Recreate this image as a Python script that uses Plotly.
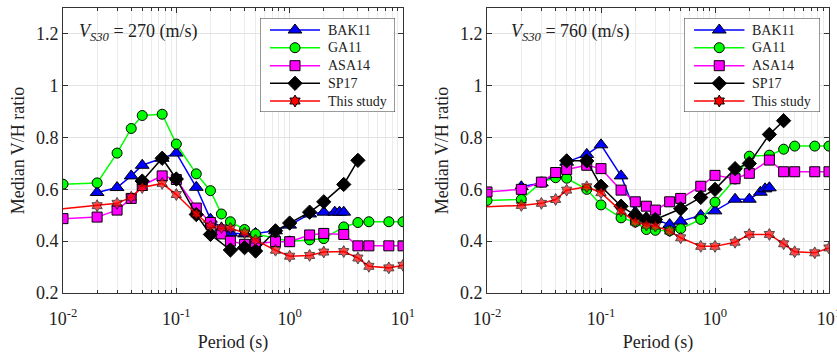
import plotly.graph_objects as go

# ---------------- data ----------------
T_std = [0.01, 0.02, 0.03, 0.04, 0.05, 0.075, 0.1, 0.15, 0.2, 0.25, 0.3, 0.4,
         0.5, 0.75, 1, 1.5, 2, 3, 4, 5, 7.5, 10]
T_bak = [0.02, 0.03, 0.04, 0.05, 0.075, 0.1, 0.15, 0.2, 0.25, 0.3, 0.4, 0.5,
         0.75, 1, 1.5, 2, 2.5, 2.75, 3]
T_sp_270 = [0.05, 0.075, 0.1, 0.15, 0.2, 0.3, 0.4, 0.5, 0.75, 1, 1.5, 2, 3, 4]
T_sp_760 = [0.05, 0.075, 0.1, 0.15, 0.2, 0.25, 0.3, 0.5, 0.75, 1, 1.5, 2, 3, 4]

# Vs30 = 270 m/s
bak11_270 = [0.588, 0.607, 0.652, 0.693, 0.72, 0.74, 0.608, 0.485, 0.45, 0.432, 0.428,
             0.43, 0.44, 0.462, 0.505, 0.512, 0.512, 0.512, 0.512]
ga11_270 = [0.62, 0.625, 0.74, 0.835, 0.885, 0.89, 0.775, 0.66, 0.595, 0.505, 0.475,
            0.445, 0.428, 0.41, 0.40, 0.405, 0.41, 0.455, 0.472, 0.475, 0.475, 0.475]
asa14_270 = [0.487, 0.493, 0.52, 0.565, 0.615, 0.652, 0.638, 0.528, 0.472, 0.428, 0.40,
             0.388, 0.39, 0.398, 0.398, 0.424, 0.43, 0.426, 0.382, 0.382, 0.382, 0.382]
sp17_270 = [0.632, 0.72, 0.64, 0.503, 0.426, 0.366, 0.375, 0.362, 0.44, 0.47, 0.512,
            0.552, 0.619, 0.712]
study_270 = [0.525, 0.537, 0.546, 0.57, 0.607, 0.623, 0.58, 0.505, 0.458, 0.452, 0.45,
             0.432, 0.404, 0.365, 0.342, 0.345, 0.358, 0.36, 0.335, 0.303, 0.297, 0.307]

# Vs30 = 760 m/s
bak11_760 = [0.61, 0.625, 0.655, 0.705, 0.735, 0.772, 0.652, 0.512, 0.49, 0.484, 0.464,
             0.477, 0.5, 0.517, 0.562, 0.562, 0.589, 0.602, 0.606]
ga11_760 = [0.557, 0.561, 0.628, 0.645, 0.643, 0.60, 0.54, 0.49, 0.474, 0.445, 0.442,
            0.44, 0.448, 0.484, 0.551, 0.64, 0.728, 0.732, 0.755, 0.767, 0.767, 0.767]
asa14_760 = [0.59, 0.60, 0.628, 0.665, 0.677, 0.693, 0.68, 0.597, 0.552, 0.535, 0.52,
             0.552, 0.565, 0.612, 0.654, 0.641, 0.662, 0.713, 0.668, 0.668, 0.668, 0.668]
sp17_760 = [0.71, 0.71, 0.612, 0.535, 0.50, 0.485, 0.484, 0.525, 0.569, 0.60, 0.68,
            0.70, 0.812, 0.865]
study_760 = [0.533, 0.538, 0.546, 0.561, 0.597, 0.61, 0.587, 0.516, 0.474, 0.462, 0.458,
             0.439, 0.413, 0.38, 0.38, 0.396, 0.426, 0.426, 0.39, 0.359, 0.355, 0.374]

series_names = ["BAK11", "GA11", "ASA14", "SP17", "This study"]
x_tickvals = [0.01, 0.1, 1, 10]
x_ticktext = ["10<sup>-2</sup>", "10<sup>-1</sup>", "10<sup>0</sup>", "10<sup>1</sup>"]
y_tickvals = [0.2, 0.4, 0.6, 0.8, 1.0, 1.2]
y_ticktext = ["0.2", "0.4", "0.6", "0.8", "1", "1.2"]
vs30_labels = ["270", "760"]

# ---------------- styles ----------------
W, H = 837, 353
FONT = "Liberation Serif"
TXT = "#222"

styles = [
    dict(color="#0000ff", symbol="triangle-up", size=12),
    dict(color="#00ff00", symbol="circle", size=10),
    dict(color="#ff00ff", symbol="square", size=10),
    dict(color="black", symbol="diamond", size=11),
    dict(color="#ff0000", symbol="hexagram", size=9),
]

fig = go.Figure()

def add_panel(ix, bak, ga, asa, sp, T_sp, study):
    xa = "x" if ix == 0 else "x2"
    ya = "y" if ix == 0 else "y2"
    xs = [T_bak, T_std, T_std, T_sp, T_std]
    ys = [bak, ga, asa, sp, study]
    for k, (name, st, xv, yv) in enumerate(zip(series_names, styles, xs, ys)):
        n = len(yv)
        if k == 4:  # no marker on the first point of this study
            msize = [0] + [st["size"]] * (n - 1)
            mlw = [0] + [1] * (n - 1)
        else:
            msize = st["size"]
            mlw = 1
        fig.add_trace(go.Scatter(
            x=xv, y=yv, name=name, xaxis=xa, yaxis=ya, mode="lines+markers",
            showlegend=False,
            line=dict(color=st["color"], width=1.5),
            marker=dict(symbol=st["symbol"], size=msize, color=st["color"],
                        line=dict(color="black", width=mlw)),
        ))

add_panel(0, bak11_270, ga11_270, asa14_270, sp17_270, T_sp_270, study_270)
add_panel(1, bak11_760, ga11_760, asa14_760, sp17_760, T_sp_760, study_760)

# ---------------- custom legends (overlay axes 0..1) ----------------
leg_boxes = [(260, 395), (684, 820)]
leg_top, leg_bot = 18, 112
row_px = [30, 47.7, 65.7, 83.3, 101]

shapes = []
annotations = []
for p, (bx0, bx1) in enumerate(leg_boxes):
    ax_id = 3 + p
    xa, ya = "x%d" % ax_id, "y%d" % ax_id
    lx0, lx1, lxm, tx = 10 / 135, 60 / 135, 35 / 135, 66 / 135
    shapes.append(dict(type="rect", xref=xa, yref=ya, x0=0, x1=1, y0=0, y1=1,
                       layer="below", fillcolor="white",
                       line=dict(color="#333", width=1)))
    for name, st, rp in zip(series_names, styles, row_px):
        yr = (leg_bot - rp) / (leg_bot - leg_top)
        fig.add_trace(go.Scatter(x=[lx0, lx1], y=[yr, yr], mode="lines", xaxis=xa, yaxis=ya,
                                 showlegend=False, hoverinfo="skip",
                                 line=dict(color=st["color"], width=1.5)))
        fig.add_trace(go.Scatter(x=[lxm], y=[yr], mode="markers", xaxis=xa, yaxis=ya,
                                 showlegend=False, hoverinfo="skip",
                                 marker=dict(symbol=st["symbol"], size=st["size"],
                                             color=st["color"],
                                             line=dict(color="black", width=1))))
        annotations.append(dict(text=name, x=tx, y=yr, xref=xa, yref=ya,
                                xanchor="left", yanchor="middle", showarrow=False,
                                font=dict(family=FONT, size=14, color=TXT)))

for xl, vs in zip([77, 509], vs30_labels):
    annotations.append(dict(
        text="<i>V</i><sub><i>S30</i></sub> = " + vs + " (m/s)",
        x=xl / W, y=(H - 33) / H, xref="paper", yref="paper",
        xanchor="left", yanchor="middle", showarrow=False,
        font=dict(family=FONT, size=18, color=TXT),
    ))

# ---------------- axes ----------------
dom_x1 = [63 / W, 403 / W]
dom_x2 = [487 / W, 829 / W]
dom_y = [(H - 293) / H, (H - 8) / H]
minor_vals = [m * 10 ** e for e in (-2, -1, 0) for m in range(2, 10)]

def xaxis_def(dom, anchor):
    return dict(
        type="log", range=[-2, 1], domain=dom, anchor=anchor, automargin=False,
        tickvals=x_tickvals, ticktext=x_ticktext, ticklabeloverflow="allow",
        ticks="inside", ticklen=5, tickcolor="#333", tickwidth=1,
        showline=True, linecolor="#333", linewidth=1, mirror="ticks",
        showgrid=True, gridcolor="#e3e3e3", gridwidth=1,
        minor=dict(tickvals=minor_vals, ticks="inside", ticklen=3, tickcolor="#333",
                   showgrid=True, gridcolor="#ececec", gridwidth=1),
        tickfont=dict(family=FONT, size=18, color=TXT),
        ticklabelstandoff=9,
        title=dict(text="Period (s)", font=dict(family=FONT, size=18, color=TXT),
                   standoff=14),
        zeroline=False,
    )

def yaxis_def(anchor):
    return dict(
        range=[0.2, 1.3], domain=dom_y, anchor=anchor, automargin=False,
        tickvals=y_tickvals, ticktext=y_ticktext, ticklabeloverflow="allow",
        ticks="inside", ticklen=5, tickcolor="#333",
        showline=True, linecolor="#333", linewidth=1, mirror="ticks",
        showgrid=True, gridcolor="#e3e3e3", gridwidth=1,
        tickfont=dict(family=FONT, size=18, color=TXT),
        title=dict(text="Median V/H ratio", font=dict(family=FONT, size=18, color=TXT),
                   standoff=6),
        zeroline=False,
    )

def overlay_axis(dom, anchor):
    return dict(domain=dom, range=[0, 1], visible=False, fixedrange=True, anchor=anchor,
                automargin=False)

fig.update_layout(
    width=W, height=H,
    margin=dict(l=0, r=0, t=0, b=0, autoexpand=False),
    paper_bgcolor="white", plot_bgcolor="white",
    xaxis=xaxis_def(dom_x1, "y"),
    yaxis=yaxis_def("x"),
    xaxis2=xaxis_def(dom_x2, "y2"),
    yaxis2=yaxis_def("x2"),
    xaxis3=overlay_axis([leg_boxes[0][0] / W, leg_boxes[0][1] / W], "y3"),
    yaxis3=overlay_axis([(H - leg_bot) / H, (H - leg_top) / H], "x3"),
    xaxis4=overlay_axis([leg_boxes[1][0] / W, leg_boxes[1][1] / W], "y4"),
    yaxis4=overlay_axis([(H - leg_bot) / H, (H - leg_top) / H], "x4"),
    shapes=shapes,
    annotations=annotations,
    showlegend=False,
)

fig.write_html("out.html")
